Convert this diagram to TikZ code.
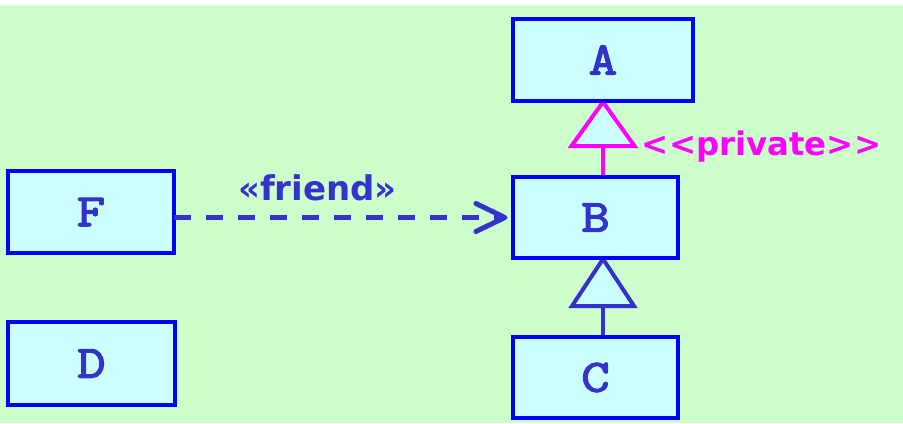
\documentclass[tikz,border=0pt]{standalone}
\usepackage{fontspec}
\usetikzlibrary{arrows.meta,calc}
\newfontfamily\boxfont{Latin Modern Mono}[FakeBold=3, FakeStretch=1.2]
\newfontfamily\labfont{DejaVu Sans}
\definecolor{bg}{HTML}{CCFFCC}
\definecolor{boxfill}{HTML}{CCFFFF}
\definecolor{boxline}{HTML}{0000FF}
\definecolor{txt}{HTML}{3333CC}
\definecolor{priv}{HTML}{FF00FF}
\pgfdeclarelayer{bottom}
\pgfdeclarelayer{under}
\pgfsetlayers{bottom,under,main}
\begin{document}
\begin{tikzpicture}[x=0.5pt,y=-0.5pt,
  cls/.style={draw=boxline, fill=boxfill, line width=2pt, inner sep=0pt, outer sep=0pt,
    font=\boxfont\fontsize{23}{23}\selectfont, text=txt},
  gen/.style={line width=2pt, fill=boxfill, line join=miter},
  stem/.style={line width=2pt},
  lab/.style={font=\labfont\bfseries, inner sep=0pt, anchor=base},
  friendline/.style={draw=txt, line width=2.5pt, dash pattern=on 8.5pt off 7.5pt,
    -{Straight Barb[length=14.5pt,width=14pt,round]}, shorten >=2.8pt}
]
\begin{pgfonlayer}{bottom}
\fill[white] (0,0) rectangle (903,423);
\fill[bg] (0,5) rectangle (903,423);
\end{pgfonlayer}
\useasboundingbox (0,0) rectangle (903,423);

\node[cls, minimum width=90pt, minimum height=41pt] (A) at (603,60) {A};
\node[cls, minimum width=82.5pt, minimum height=40.5pt] (B) at (595.5,217.5) {B};
\node[cls, minimum width=82.5pt, minimum height=40.5pt] (C) at (595.5,377.5) {C};
\node[cls, minimum width=83pt, minimum height=41pt] (F) at (91,212) {F};
\node[cls, minimum width=83.5pt, minimum height=41.5pt] (D) at (91.5,363.5) {D};

\coordinate (tA) at ($(A.south)+(0,1)$);
\coordinate (bA) at ($(tA)+(0,44)$);
\coordinate (tB) at ($(B.south -| A.south)+(0,1)$);
\coordinate (bB) at ($(tB)+(0,47)$);

\begin{pgfonlayer}{under}
\draw[stem, draw=priv] (B.north -| A.south) -- (bA);
\draw[gen, draw=priv] (tA) -- ($(bA)+(-31.5,0)$) -- ($(bA)+(31.5,0)$) -- cycle;
\draw[stem, draw=txt] (C.north -| A.south) -- (bB);
\draw[gen, draw=txt] (tB) -- ($(bB)+(-31,0)$) -- ($(bB)+(31,0)$) -- cycle;
\end{pgfonlayer}

\draw[friendline] (F.east |- B.west) -- (B.west);

\node[lab, text=txt, font=\labfont\bfseries\fontsize{17}{17}\selectfont] (fr) at (317.5,200) {«friend»};
\node[lab, text=priv, font=\labfont\bfseries\fontsize{16.2}{17}\selectfont] (pv) at (761.5,155) {<<private>>};
\end{tikzpicture}
\end{document}
